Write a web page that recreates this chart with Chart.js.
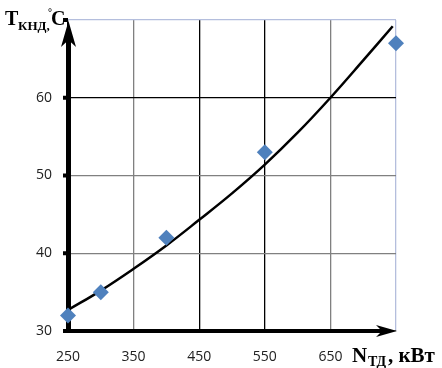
<!DOCTYPE html>
<html>
<head>
<meta charset="utf-8">
<script src="https://cdn.jsdelivr.net/npm/chart.js@4"></script>
<style>
  html, body { margin: 0; padding: 0; background: #fff; }
  #wrap { width: 442px; height: 368px; }
</style>
</head>
<body>
<div id="wrap"><canvas id="chart" width="442" height="368"></canvas></div>
<script>
// measured points
const powerKW = [250, 300, 400, 550, 750];
const tempC = [32, 35, 42, 53, 67];
// trend curve
const trendX = [250, 300, 350, 400, 450, 500, 550, 600, 650, 700, 745];
const trendY = [32.7, 35.2, 38.0, 41.0, 44.3, 47.7, 51.4, 55.5, 60.0, 64.8, 69.2];
const xTicks = [250, 350, 450, 550, 650, 750];
const yTicks = [30, 40, 50, 60, 70];

const serif = '"Liberation Serif", "DejaVu Serif", serif';

const axesPlugin = {
    id: 'axes',
    beforeDatasetsDraw(chart) {
        const { ctx, chartArea: a } = chart;
        ctx.save();
        ctx.fillStyle = '#000';
        // y axis with arrow
        ctx.fillRect(a.left - 2, a.top + 18, 5, a.bottom - a.top - 16);
        ctx.beginPath();
        ctx.moveTo(a.left + 0.5, a.top + 1);
        ctx.lineTo(a.left + 8, a.top + 27);
        ctx.lineTo(a.left + 0.5, a.top + 20);
        ctx.lineTo(a.left - 7, a.top + 27);
        ctx.closePath();
        ctx.fill();
        // x axis with arrow
        ctx.fillRect(a.left - 2, a.bottom - 2, a.right - a.left - 10, 4);
        ctx.beginPath();
        ctx.moveTo(a.right + 1, a.bottom);
        ctx.lineTo(a.right - 20, a.bottom - 6);
        ctx.lineTo(a.right - 14, a.bottom);
        ctx.lineTo(a.right - 20, a.bottom + 6);
        ctx.closePath();
        ctx.fill();
        // y tick marks
        const y = chart.scales.y;
        for (const v of yTicks) {
            ctx.fillRect(a.left - 5, y.getPixelForValue(v) - 2, 5, 4);
        }
        ctx.restore();
    },
    afterDraw(chart) {
        const { ctx } = chart;
        ctx.save();
        ctx.fillStyle = '#000';
        ctx.textBaseline = 'alphabetic';
        // y title: T кнд, °C
        ctx.font = 'bold 20px ' + serif;
        ctx.fillText('T', 5, 25);
        ctx.font = 'bold 13px ' + serif;
        ctx.fillText('КНД,', 18, 30);
        ctx.font = 'bold 10px ' + serif;
        ctx.fillText('°', 48, 16);
        ctx.font = 'bold 20px ' + serif;
        ctx.fillText('C', 51, 25);
        // x title: N тд, кВт
        ctx.font = 'bold 21px ' + serif;
        ctx.fillText('N', 352, 362);
        ctx.font = 'bold 14px ' + serif;
        ctx.fillText('ТД', 368, 366);
        ctx.font = 'bold 21px ' + serif;
        ctx.fillText(', кВт', 388, 362);
        ctx.restore();
    }
};

new Chart(document.getElementById('chart'), {
    type: 'scatter',
    data: {
        datasets: [
            {
                label: 'T',
                data: powerKW.map((x, i) => ({ x: x, y: tempC[i] })),
                pointStyle: 'rectRot',
                pointRadius: 8,
                backgroundColor: '#4f81bd',
                borderColor: '#4f81bd',
                borderWidth: 0,
                clip: false,
                order: 1,
            },
            {
                label: 'trend',
                type: 'line',
                data: trendX.map((x, i) => ({ x: x, y: trendY[i] })),
                borderColor: '#000',
                borderWidth: 2.5,
                pointRadius: 0,
                tension: 0.4,
                fill: false,
                order: 2,
            },
        ],
    },
    options: {
        responsive: false,
        animation: false,
        layout: { padding: { top: 20, right: 46, left: 0, bottom: 0 } },
        plugins: { legend: { display: false }, tooltip: { enabled: false } },
        scales: {
            x: {
                type: 'linear',
                min: 250,
                max: 750,
                afterBuildTicks: (s) => { s.ticks = xTicks.map((v) => ({ value: v })); },
                afterFit: (s) => { s.height = 37; },
                border: { display: false },
                grid: {
                    drawTicks: false,
                    lineWidth: 1.3,
                    color: (c) => {
                        const v = c.tick && c.tick.value;
                        if (v === 750) return '#b4bedd';
                        if (v === 350 || v === 650) return '#808080';
                        return '#000';
                    },
                },
                ticks: {
                    padding: 18,
                    color: '#222',
                    font: { family: '"Open Sans", sans-serif', size: 14 },
                    callback: (v) => (v === 750 ? '' : v),
                },
            },
            y: {
                min: 30,
                max: 70,
                afterBuildTicks: (s) => { s.ticks = yTicks.map((v) => ({ value: v })); },
                afterFit: (s) => { s.width = 68; },
                border: { display: false },
                grid: {
                    drawTicks: true,
                    tickLength: 13,
                    tickColor: 'rgba(0,0,0,0)',
                    lineWidth: 1.3,
                    color: (c) => {
                        const v = c.tick && c.tick.value;
                        if (v === 70) return '#b4bedd';
                        if (v === 60) return '#000';
                        return '#808080';
                    },
                },
                ticks: {
                    padding: 3,
                    color: '#222',
                    font: { family: '"Open Sans", sans-serif', size: 14 },
                    callback: (v) => (v === 70 ? '' : v),
                },
            },
        },
    },
    plugins: [axesPlugin],
});
</script>
</body>
</html>
